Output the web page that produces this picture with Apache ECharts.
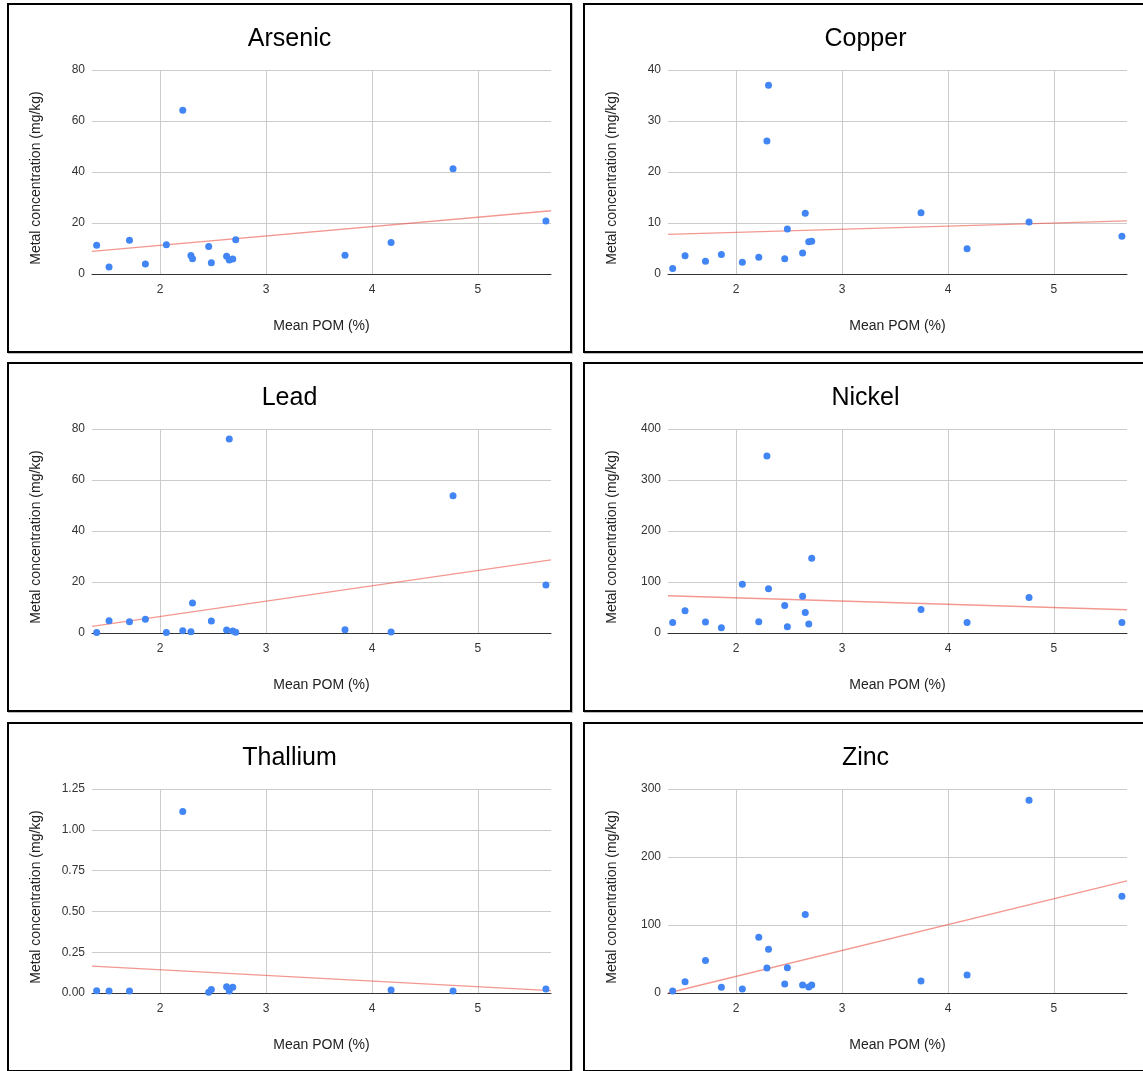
<!DOCTYPE html>
<html>
<head>
<meta charset="utf-8">
<script src="https://cdn.jsdelivr.net/npm/echarts@6/dist/echarts.min.js"></script>
<style>
  html, body { margin: 0; padding: 0; background: #fff; width: 1143px; height: 1071px; overflow: hidden; }
  .panel { position: absolute; width: 565px; height: 350px; box-sizing: border-box; border: 2px solid #000; box-shadow: 1px 1px 0 #bbb; background: #fff; }
  .chart { width: 561px; height: 346px; }
</style>
</head>
<body>
<script>
// Shared x values: Mean POM (%)
const meanPOM = [1.40, 1.517, 1.71, 1.86, 2.058, 2.213, 2.29, 2.305, 2.458, 2.483, 2.627, 2.652, 2.685, 2.713, 3.745, 4.18, 4.765, 5.642];

// Metal concentrations (mg/kg), aligned with meanPOM; null = no point
const arsenic  = [11.3, 2.7, 13.2, 3.9, 11.5, 64.2, 7.3, 6.0, 10.8, 4.4, 7.0, 5.5, 5.9, 13.4, 7.4, 12.4, 41.3, 20.8];
const copper   = [1.1, 3.6, 2.5, 3.8, 2.3, 3.3, 26.1, 37.0, 3.0, 8.8, 4.1, 11.9, 6.3, 6.4, 12.0, 4.95, 10.2, 7.4];
const lead     = [0.2, 4.8, 4.4, 5.4, 0.2, 0.9, 0.5, 11.8, null, 4.7, 1.2, 76.1, 0.8, 0.3, 1.3, 0.4, 53.8, 18.8];
const nickel   = [20.8, 43.6, 21.5, 10.4, 95.8, 22.1, 347, 86.6, 54, 12.4, 72.3, 40.4, 17.6, 146.6, 46.3, 20.8, 69.7, 20.8];
const thallium = [0.014, 0.012, 0.012, null, null, 1.112, null, null, 0.005, 0.022, 0.039, 0.012, 0.035, null, null, 0.018, 0.012, 0.024];
const zinc     = [2.9, 16.6, 47.8, 8.3, 5.9, 82, 36.6, 64.4, 13.2, 37.1, 11.7, 115.6, 8.8, 11.7, 17.6, 26.3, 283.4, 142.4];

// Trendline values at the x-axis ends [at xMin, at xMax]
const xExtent = [1.356, 5.69];
const trendArsenic  = [8.9, 24.8];
const trendCopper   = [7.75, 10.4];
const trendLead     = [2.6, 28.7];
const trendNickel   = [73, 45.6];
const trendThallium = [0.165, 0.014];
const trendZinc     = [0, 164.9];

// Axis tick settings
const titles = ['Arsenic', 'Copper', 'Lead', 'Nickel', 'Thallium', 'Zinc'];
const yMax = [80, 40, 80, 400, 1.25, 300];
const yInterval = [20, 10, 20, 100, 0.25, 100];
const yDecimals = [0, 0, 0, 0, 2, 0];
const xTicks = [2, 3, 4, 5];

const seriesY = [arsenic, copper, lead, nickel, thallium, zinc];
const trends = [trendArsenic, trendCopper, trendLead, trendNickel, trendThallium, trendZinc];

const panelLefts = [7, 583];
const panelTops = [3, 362, 722];

const FONT = '"Liberation Sans", Arial, sans-serif';

titles.forEach((name, i) => {
  const col = i % 2, row = Math.floor(i / 2);
  const panel = document.createElement('div');
  panel.className = 'panel';
  panel.style.left = panelLefts[col] + 'px';
  panel.style.top = panelTops[row] + 'px';
  const el = document.createElement('div');
  el.className = 'chart';
  panel.appendChild(el);
  document.body.appendChild(panel);

  const pts = [];
  meanPOM.forEach((x, k) => { if (seriesY[i][k] !== null) pts.push([x, seriesY[i][k]]); });

  const chart = echarts.init(el, null, { renderer: 'canvas' });
  chart.setOption({
    animation: false,
    title: {
      text: name, left: 'center', top: 17,
      textStyle: { fontFamily: FONT, fontSize: 25, fontWeight: 'normal', color: '#000' }
    },
    grid: { left: 83, right: 19, top: 65, bottom: 77 },
    xAxis: {
      type: 'value', min: xExtent[0], max: xExtent[1],
      name: 'Mean POM (%)', nameLocation: 'middle', nameGap: 45,
      nameTextStyle: { fontFamily: FONT, fontSize: 14, color: '#222' },
      axisLine: { show: true, onZero: false, lineStyle: { color: '#333', width: 1 } },
      axisTick: { show: false },
      axisLabel: {
        margin: 10, fontFamily: FONT, fontSize: 12, color: '#333',
        showMinLabel: false, showMaxLabel: false,
        formatter: v => (xTicks.indexOf(Math.round(v * 1000) / 1000) >= 0 ? String(v) : '')
      },
      splitLine: { show: true, showMinLine: false, showMaxLine: false, lineStyle: { color: '#cccccc', width: 1 } }
    },
    yAxis: {
      type: 'value', min: 0, max: yMax[i], interval: yInterval[i],
      name: 'Metal concentration (mg/kg)', nameLocation: 'middle', nameGap: 49,
      nameTextStyle: { fontFamily: FONT, fontSize: 14, color: '#222', padding: [0, 12, 0, 0] },
      axisLine: { show: false },
      axisTick: { show: false },
      axisLabel: {
        margin: 7, fontFamily: FONT, fontSize: 12, color: '#333',
        formatter: v => v.toFixed(yDecimals[i])
      },
      splitLine: { show: true, lineStyle: { color: '#cccccc', width: 1 } }
    },
    series: [
      {
        type: 'line', data: [[xExtent[0], trends[i][0]], [xExtent[1], trends[i][1]]],
        symbol: 'none', silent: true, z: 1,
        lineStyle: { color: '#ea4335', width: 1.3, opacity: 0.55 }
      },
      {
        type: 'scatter', data: pts, symbolSize: 7, z: 2,
        itemStyle: { color: '#4285f4', opacity: 1 }
      }
    ]
  });
});
</script>
</body>
</html>
